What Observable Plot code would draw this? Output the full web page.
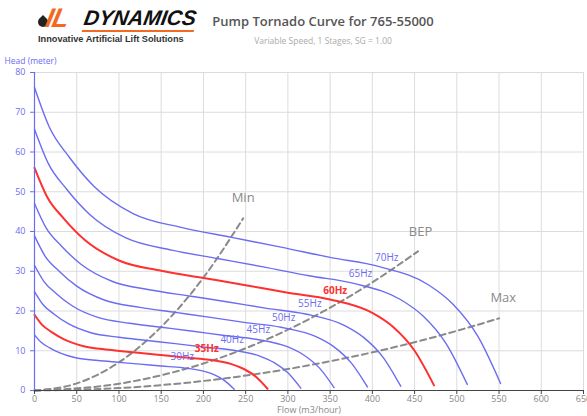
<!DOCTYPE html>
<html><head><meta charset="utf-8">
<script src="https://cdn.jsdelivr.net/npm/d3@7"></script>
<script src="https://cdn.jsdelivr.net/npm/@observablehq/plot@0.6"></script>
<style>
body{margin:0;background:#fff;font-family:"Open Sans",sans-serif;}
#wrap{position:relative;width:587px;height:416px;overflow:hidden}
#header{position:relative;height:50px}
#drop{position:absolute;left:38px;top:17px;width:10px;height:10px;background:#222;border-radius:50% 0 50% 50%;transform:rotate(-45deg)}
#oil{position:absolute;left:46px;top:3px;font-family:"Liberation Sans",sans-serif;font-weight:bold;font-style:italic;font-size:27px;color:#f26a21;letter-spacing:-1px;transform:skewX(-12deg)}
#dyn{position:absolute;left:84px;top:6px;font-family:"Liberation Sans",sans-serif;font-weight:900;font-style:italic;font-size:21px;color:#111;letter-spacing:0px;transform:skewX(-10deg);border-bottom:2px solid #f26a21;line-height:24px}
#tag{position:absolute;left:38px;top:34px;font-family:"Liberation Sans",sans-serif;font-weight:bold;font-size:9.2px;color:#333;white-space:nowrap}
#title{position:absolute;left:323px;top:12px;transform:translateX(-50%);font-weight:600;font-size:13px;color:#555;white-space:nowrap}
#sub{position:absolute;left:323px;top:35px;transform:translateX(-50%);font-size:8.5px;color:#aaa;white-space:nowrap}
</style></head><body>
<div id="wrap">
<div id="header">
 <div id="drop"></div>
 <div id="oil">IL</div>
 <div id="dyn">DYNAMICS</div>
 <div id="tag">Innovative Artificial Lift Solutions</div>
 <div id="title">Pump Tornado Curve for 765-55000</div>
 <div id="sub">Variable Speed, 1 Stages, SG = 1.00</div>
</div>
<div id="chart"></div>
</div>
<script>
// Tick values
const xTicks = [0,50,100,150,200,250,300,350,400,450,500,550,600,650];
const yTicks = [0,10,20,30,40,50,60,70,80];

// Frequencies and their curves (flow m3/hour, head meter)
const freqs = [30,35,40,45,50,55,60,65,70];
const redFreqs = [35,60];
const flow30 = [0,7.5,17.5,30,50,75,100,125,150,175,200,212.5,225,236.5];
const head30 = [14,12.2,10.8,9.45,8.18,7.53,7.08,6.63,6.15,5.73,4.88,3.98,2.5,0.33];
const flow35 = [0,8.75,20.4,35,58.3,87.5,116.7,145.8,175,204.2,233.3,247.9,262.5,275.9];
const head35 = [19.06,16.57,14.7,12.86,11.13,10.24,9.63,9.02,8.37,7.79,6.64,5.41,3.4,0.44];
const flow40 = [0,10,23.3,40,66.7,100,133.3,166.7,200,233.3,266.7,283.3,300,315.3];
const head40 = [24.89,21.64,19.2,16.8,14.53,13.38,12.58,11.78,10.93,10.18,8.67,7.07,4.44,0.58];
const flow45 = [0,11.25,26.25,45,75,112.5,150,187.5,225,262.5,300,318.75,337.5,354.75];
const head45 = [31.5,27.39,24.3,21.26,18.39,16.93,15.92,14.91,13.84,12.88,10.97,8.94,5.63,0.73];
const flow50 = [0,12.5,29.2,50,83.3,125,166.7,208.3,250,291.7,333.3,354.2,375,394.2];
const head50 = [38.89,33.82,30,26.25,22.71,20.9,19.65,18.4,17.08,15.9,13.54,11.04,6.94,0.9];
const flow55 = [0,13.75,32.1,55,91.7,137.5,183.3,229.2,275,320.8,366.7,389.6,412.5,433.6];
const head55 = [47.06,40.92,36.3,31.76,27.48,25.29,23.78,22.27,20.67,19.24,16.39,13.36,8.4,1.09];
const flow60 = [0,15,35,60,100,150,200,250,300,350,400,425,450,473];
const head60 = [56,48.7,43.2,37.8,32.7,30.1,28.3,26.5,24.6,22.9,19.5,15.9,10,1.3];
const flow65 = [0,16.25,37.9,65,108.3,162.5,216.7,270.8,325,379.2,433.3,460.4,487.5,512.4];
const head65 = [65.72,57.15,50.7,44.36,38.38,35.33,33.21,31.1,28.87,26.88,22.89,18.66,11.74,1.53];
const flow70 = [0,17.5,40.8,70,116.7,175,233.3,291.7,350,408.3,466.7,495.8,525,551.8];
const head70 = [76.22,66.29,58.8,51.45,44.51,40.97,38.52,36.07,33.48,31.17,26.54,21.64,13.61,1.77];

// Frequency label positions
const labelFlow = [175,204,234,265,295,326,356,386,417];
const labelHead = [8.6,10.5,12.8,15.3,18.3,21.8,25.2,29.4,33.4];

// Operating range guide lines
const guideNames = ["Min","BEP","Max"];
const minFlow = [0,50,100,150,200,247];
const minHead = [0,1.78,7.1,16,28.4,43.3];
const bepFlow = [0,100,200,300,400,454];
const bepHead = [0,1.7,6.8,15.3,27.2,35];
const maxFlow = [0,100,200,300,400,500,550];
const maxHead = [0,0.6,2.4,5.4,9.6,15,18.15];
const guideLabelFlow = [247,457,555];
const guideLabelHead = [48.4,39.8,23.2];

const curveSets = [[30,flow30,head30],[35,flow35,head35],[40,flow40,head40],[45,flow45,head45],[50,flow50,head50],[55,flow55,head55],[60,flow60,head60],[65,flow65,head65],[70,flow70,head70]];
const rows = curveSets.flatMap(([f,qs,hs]) => qs.map((q,i) => ({f, q, h: hs[i], red: redFreqs.includes(f)})));
const guideSets = [["Min",minFlow,minHead],["BEP",bepFlow,bepHead],["Max",maxFlow,maxHead]];
const guideRows = guideSets.flatMap(([n,qs,hs]) => qs.map((q,i) => ({n, q, h: hs[i]})));
const fLabels = freqs.map((f,i) => ({t: f + "Hz", q: labelFlow[i], h: labelHead[i], red: redFreqs.includes(f)}));
const gLabels = guideNames.map((n,i) => ({t: n, q: guideLabelFlow[i], h: guideLabelHead[i]}));

const BLUE = "#6c6cf2", RED = "#ff3030";

const chart = Plot.plot({
  width: 587, height: 366,
  marginLeft: 34, marginRight: 4, marginTop: 22, marginBottom: 26,
  style: {fontFamily: "Open Sans", fontSize: "9px", background: "transparent"},
  x: {domain: [0,650]},
  y: {domain: [0,80]},
  marks: [
    Plot.gridX(xTicks, {stroke: "#dcdcdc", strokeOpacity: 1}),
    Plot.gridY(yTicks, {stroke: "#dcdcdc", strokeOpacity: 1}),
    Plot.line(guideRows, {x: "q", y: "h", z: "n", stroke: "#8a8a8a", strokeWidth: 2, strokeDasharray: "6,4", curve: "monotone-x"}),
    Plot.text(gLabels, {x: "q", y: "h", text: "t", fill: "#8a8a8a", fontSize: 13}),
    Plot.line(rows.filter(d => !d.red), {x: "q", y: "h", z: "f", stroke: BLUE, strokeWidth: 1.4, curve: "monotone-x"}),
    Plot.line(rows.filter(d => d.red), {x: "q", y: "h", z: "f", stroke: RED, strokeWidth: 2, curve: "monotone-x"}),
    Plot.text(fLabels.filter(d => !d.red), {x: "q", y: "h", text: "t", fill: BLUE, fontSize: 10}),
    Plot.text(fLabels.filter(d => d.red), {x: "q", y: "h", text: "t", fill: RED, fontSize: 10, fontWeight: "bold"}),
    Plot.ruleY([0], {stroke: "#444"}),
    Plot.ruleX([0], {stroke: BLUE, strokeWidth: 1.2}),
    Plot.axisX(xTicks, {tickSize: 4, tickPadding: 1, fill: "#888", stroke: "#444", label: null, tickFormat: d => d}),
    Plot.axisY(yTicks, {tickSize: 4, fill: BLUE, stroke: BLUE, label: null}),
    Plot.text(["Flow (m3/hour)"], {frameAnchor: "bottom", lineAnchor: "middle", dy: 20, fill: "#888", fontSize: 9}),
    Plot.text(["Head (meter)"], {frameAnchor: "top-left", dx: -30, dy: -15, textAnchor: "start", fill: BLUE, fontSize: 8.5})
  ]
});
document.getElementById("chart").appendChild(chart);
</script>
</body></html>
